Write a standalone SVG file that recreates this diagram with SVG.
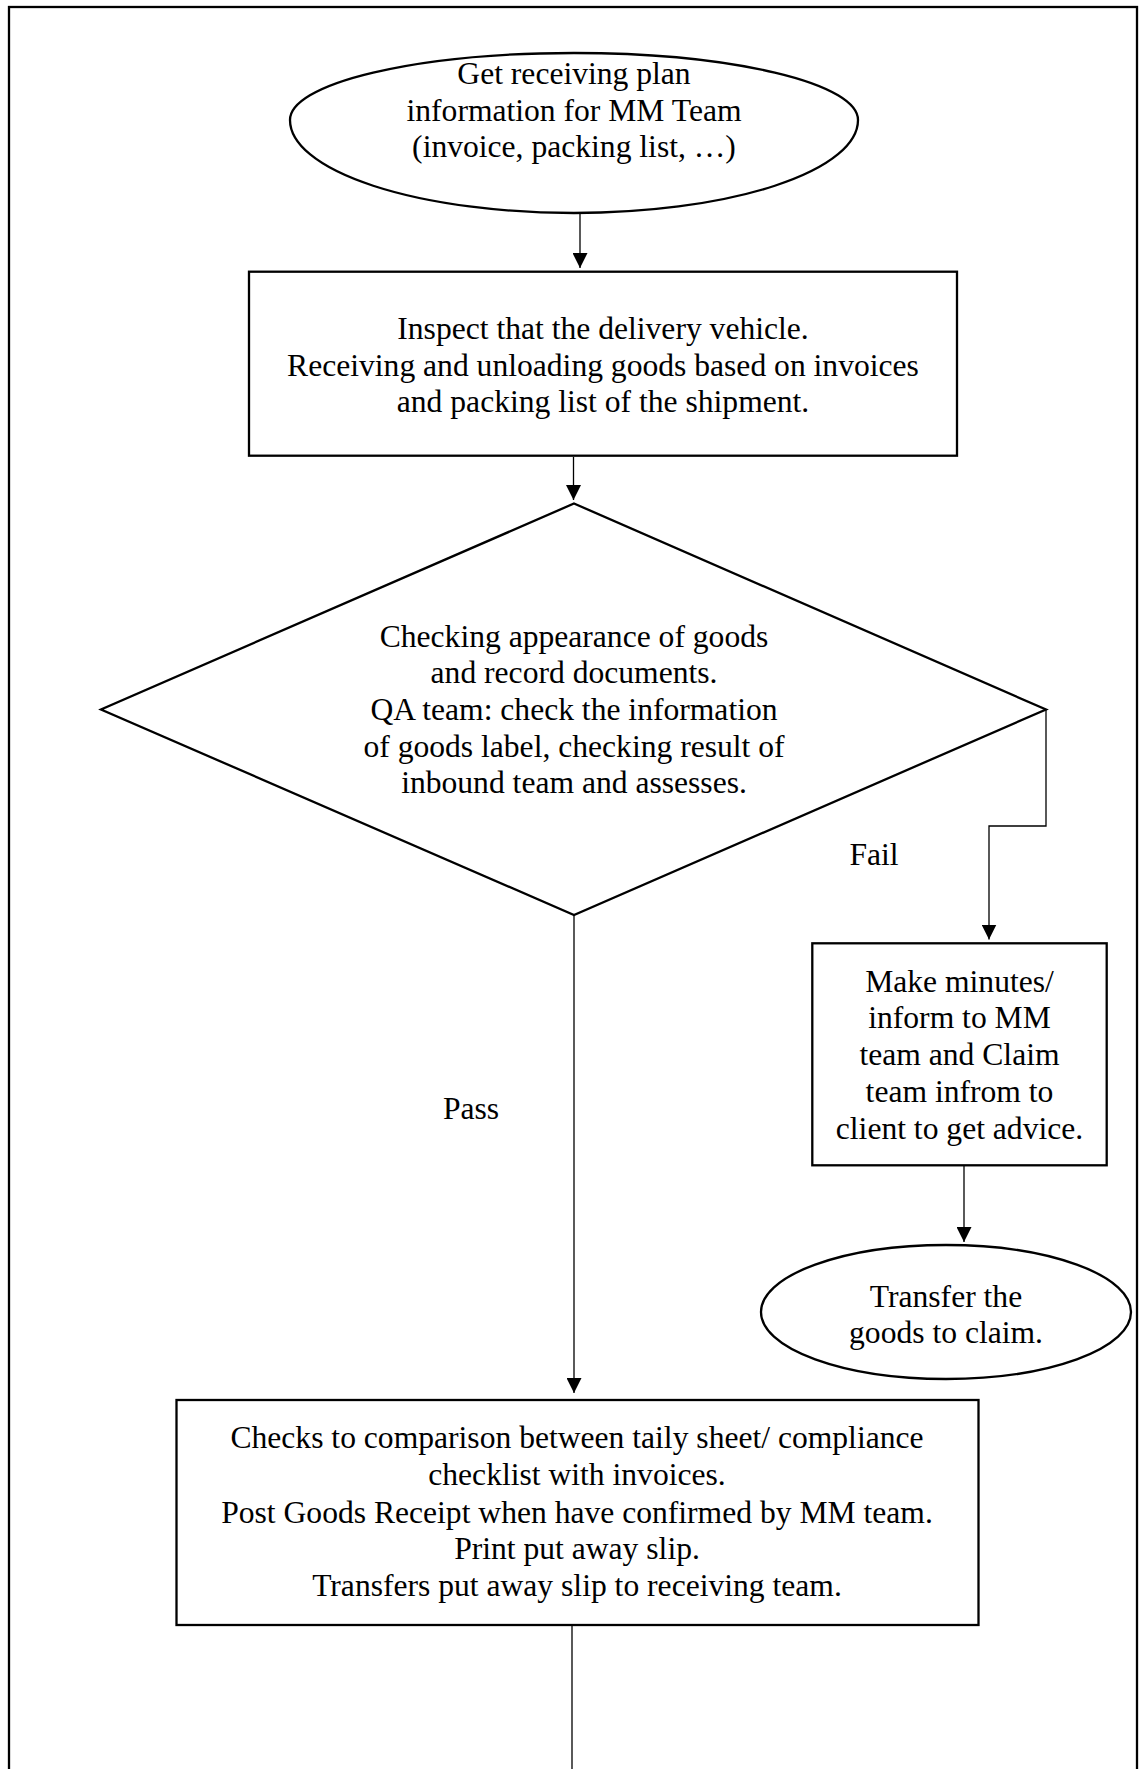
<svg xmlns="http://www.w3.org/2000/svg" width="1139" height="1769" viewBox="0 0 1139 1769">
  <style>
    .shape { fill: #ffffff; stroke: #000000; stroke-width: 2.3; }
    .frame { fill: none; stroke: #000000; stroke-width: 2.3; }
    .link { fill: none; stroke: #000000; stroke-width: 1.3; }
    text { font-family: "Liberation Serif", "Times New Roman", serif; font-size: 31.6px; fill: #000000; text-anchor: middle; }
  </style>
  <defs>
    <marker id="arrow" markerUnits="userSpaceOnUse" markerWidth="15" markerHeight="15" refX="15" refY="7.5" orient="auto">
      <path d="M0,0 L15,7.5 L0,15 Z" fill="#000000"/>
    </marker>
  </defs>

  <rect width="1139" height="1769" fill="#ffffff"/>
  <!-- page frame -->
  <rect class="frame" x="9" y="7" width="1128" height="1790"/>

  <!-- connectors -->
  <g id="connectors">
    <line class="link" x1="580" y1="212" x2="580" y2="268" marker-end="url(#arrow)"/>
    <line class="link" x1="573.5" y1="457" x2="573.5" y2="500" marker-end="url(#arrow)"/>
    <polyline class="link" points="1046,709.5 1046,826 989,826 989,939.5" marker-end="url(#arrow)"/>
    <line class="link" x1="964" y1="1166" x2="964" y2="1242" marker-end="url(#arrow)"/>
    <line class="link" x1="574" y1="915" x2="574" y2="1393" marker-end="url(#arrow)"/>
    <line class="link" x1="572" y1="1626" x2="572" y2="1769"/>
    <text x="874" y="865">Fail</text>
    <text x="471" y="1119">Pass</text>
  </g>

  <!-- start: receiving plan (slightly fuller lower half) -->
  <g id="node-start">
    <path class="shape" d="M290,120 A284,67 0 0 1 858,120 A284,93 0 0 1 290,120 Z"/>
    <text x="574" y="83.5">Get receiving plan</text>
    <text x="574" y="120.5">information for MM Team</text>
    <text x="574" y="157">(invoice, packing list, …)</text>
  </g>

  <!-- inspect / unload -->
  <g id="node-inspect">
    <rect class="shape" x="249" y="271.7" width="708" height="184"/>
    <text x="603" y="339">Inspect that the delivery vehicle.</text>
    <text x="603" y="375.5">Receiving and unloading goods based on invoices</text>
    <text x="603" y="412">and packing list of the shipment.</text>
  </g>

  <!-- decision: appearance / QA check -->
  <g id="node-check">
    <polygon class="shape" points="574,503.5 1046,709.5 574,915 101,709.5"/>
    <text x="574" y="646.5">Checking appearance of goods</text>
    <text x="574" y="683.2">and record documents.</text>
    <text x="574" y="719.9">QA team: check the information</text>
    <text x="574" y="756.6">of goods label, checking result of</text>
    <text x="574" y="793.3">inbound team and assesses.</text>
  </g>

  <!-- fail branch: minutes -->
  <g id="node-minutes">
    <rect class="shape" x="812.3" y="943.3" width="294.4" height="222"/>
    <text x="959.5" y="991.7">Make minutes/</text>
    <text x="959.5" y="1028.4">inform to MM</text>
    <text x="959.5" y="1065.1">team and Claim</text>
    <text x="959.5" y="1101.8">team infrom to</text>
    <text x="959.5" y="1138.5">client to get advice.</text>
  </g>

  <!-- fail branch end -->
  <g id="node-claim">
    <ellipse class="shape" cx="946" cy="1312" rx="185" ry="67"/>
    <text x="946" y="1306.7">Transfer the</text>
    <text x="946" y="1343.3">goods to claim.</text>
  </g>

  <!-- pass branch: goods receipt -->
  <g id="node-receipt">
    <rect class="shape" x="176.5" y="1400" width="802" height="225"/>
    <text x="577" y="1448.3">Checks to comparison between taily sheet/ compliance</text>
    <text x="577" y="1485">checklist with invoices.</text>
    <text x="577" y="1522.7">Post Goods Receipt when have confirmed by MM team.</text>
    <text x="577" y="1559.4">Print put away slip.</text>
    <text x="577" y="1596.1">Transfers put away slip to receiving team.</text>
  </g>
</svg>
